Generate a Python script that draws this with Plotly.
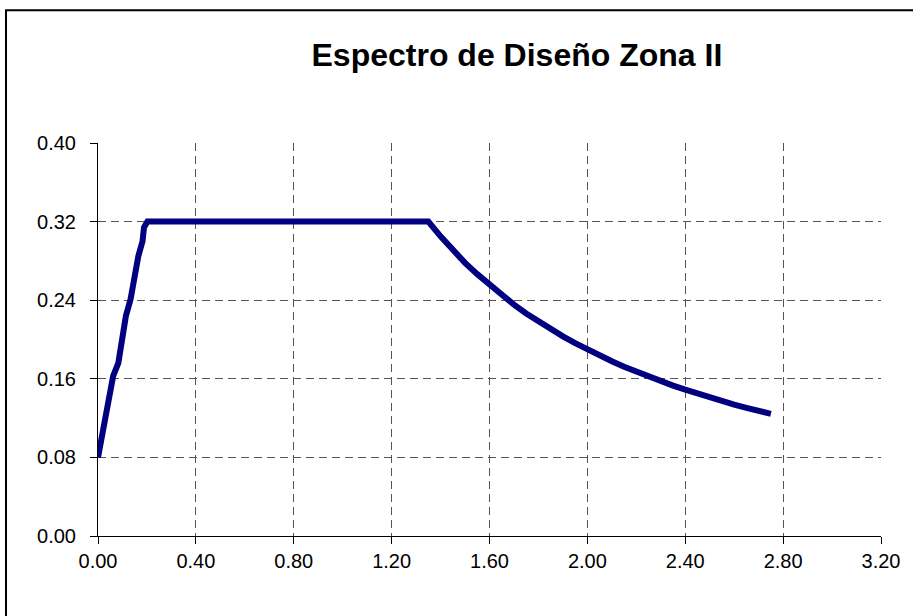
import plotly.graph_objects as go

# Periodo T (s) y aceleración espectral a (g) del espectro de diseño
periodo = [0.000, 0.007, 0.015, 0.032, 0.045, 0.062, 0.083, 0.100, 0.114, 0.133,
           0.150, 0.165, 0.182, 0.188, 0.202,
           1.350, 1.400, 1.450, 1.500, 1.550, 1.600, 1.650, 1.700, 1.750, 1.800,
           1.850, 1.900, 1.950, 2.000, 2.050, 2.100, 2.150, 2.200, 2.250, 2.300,
           2.350, 2.400, 2.450, 2.500, 2.550, 2.600, 2.650, 2.700, 2.750]
aceleracion = [0.080, 0.090, 0.101, 0.118, 0.140, 0.163, 0.176, 0.205, 0.224, 0.241,
               0.265, 0.285, 0.300, 0.314, 0.320,
               0.320, 0.305, 0.291, 0.278, 0.2665, 0.2555, 0.245, 0.2355, 0.2265, 0.2183,
               0.2105, 0.2032, 0.1963, 0.1898, 0.1837, 0.1778, 0.1723, 0.1671, 0.1622, 0.1575,
               0.1531, 0.1489, 0.1448, 0.1410, 0.1373, 0.1338, 0.1305, 0.1273, 0.1243]

x_ticks = [0.0, 0.4, 0.8, 1.2, 1.6, 2.0, 2.4, 2.8, 3.2]
y_ticks = [0.0, 0.08, 0.16, 0.24, 0.32, 0.40]

FONT = "Liberation Sans, Arial, sans-serif"

fig = go.Figure()
fig.add_trace(go.Scatter(
    x=periodo, y=aceleracion, mode="lines",
    line=dict(color="#000080", width=6),
    showlegend=False, hoverinfo="x+y",
))

axis_common = dict(
    showline=True, linecolor="black", linewidth=1,
    ticks="outside", ticklen=7, tickcolor="black", tickwidth=1,
    showgrid=True, gridcolor="#555555", gridwidth=1, griddash="8px,5px",
    zeroline=False, tickformat=".2f",
    tickfont=dict(family=FONT, size=20, color="black"),
)

fig.update_layout(
    width=913, height=616,
    margin=dict(l=98, r=32, t=143, b=80),
    paper_bgcolor="white", plot_bgcolor="white",
    title=dict(
        text="<b>Espectro de Diseño Zona II</b>",
        font=dict(family=FONT, size=32, color="black"),
        x=0.535, xref="paper", xanchor="center",
        y=0.911, yref="container", yanchor="middle",
    ),
    xaxis=dict(range=[0, 3.2], tickvals=x_ticks, ticklabelstandoff=0, **axis_common),
    yaxis=dict(range=[0, 0.4], tickvals=y_ticks, ticklabelstandoff=10, **axis_common),
    shapes=[dict(
        type="rect", xref="paper", yref="paper",
        x0=-0.1175, x1=1.2, y0=-0.4, y1=1.338,
        line=dict(color="black", width=2), fillcolor="rgba(0,0,0,0)",
        layer="above",
    )],
)

fig.write_html("out.html")
